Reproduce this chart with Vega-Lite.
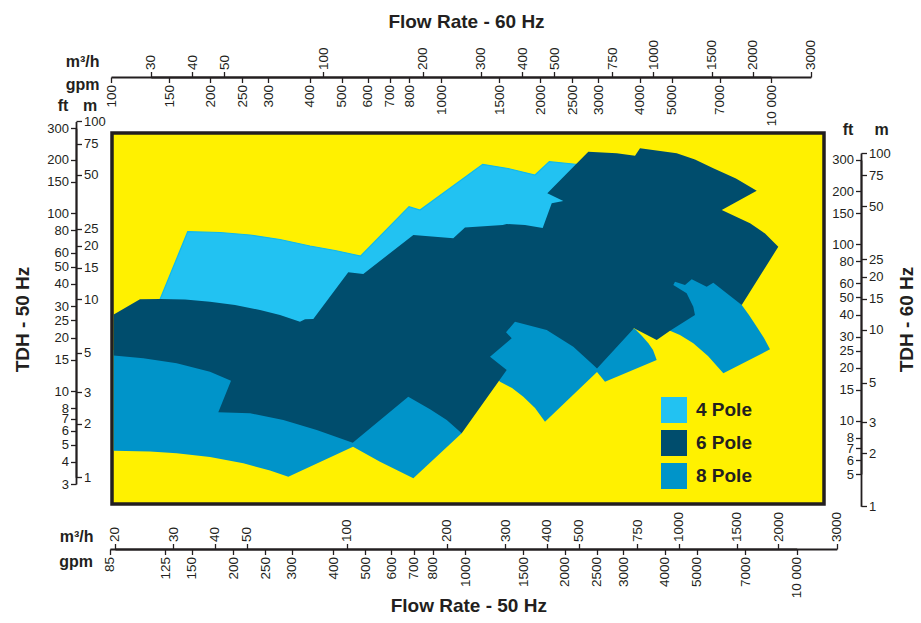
{
"$schema": "https://vega.github.io/schema/vega-lite/v6.json",
"width": 712, "height": 371,
"autosize": {"type": "none"},
"padding": {"left": 112, "top": 133, "right": 97, "bottom": 119},
"background": "white",
"datasets": {
"poly": [
{"pole":"4 Pole","shape":"A","i":1,"flow":26.91,"head":9.289},
{"pole":"4 Pole","shape":"A","i":2,"flow":33.14,"head":23.99},
{"pole":"4 Pole","shape":"A","i":3,"flow":41.47,"head":23.74},
{"pole":"4 Pole","shape":"A","i":4,"flow":51.07,"head":22.99},
{"pole":"4 Pole","shape":"A","i":5,"flow":62.89,"head":21.69},
{"pole":"4 Pole","shape":"A","i":6,"flow":77.45,"head":19.94},
{"pole":"4 Pole","shape":"A","i":7,"flow":92.13,"head":18.81},
{"pole":"4 Pole","shape":"A","i":8,"flow":110.1,"head":17.52},
{"pole":"4 Pole","shape":"A","i":9,"flow":154.0,"head":33.16},
{"pole":"4 Pole","shape":"A","i":10,"flow":166.2,"head":31.77},
{"pole":"4 Pole","shape":"A","i":11,"flow":256.8,"head":57.40},
{"pole":"4 Pole","shape":"A","i":12,"flow":306.2,"head":54.36},
{"pole":"4 Pole","shape":"A","i":13,"flow":369.3,"head":49.97},
{"pole":"4 Pole","shape":"A","i":14,"flow":407.8,"head":59.37},
{"pole":"4 Pole","shape":"A","i":15,"flow":481.7,"head":57.62},
{"pole":"4 Pole","shape":"A","i":16,"flow":548.5,"head":56.15},
{"pole":"4 Pole","shape":"A","i":17,"flow":579.9,"head":18.93},
{"pole":"4 Pole","shape":"A","i":18,"flow":102.2,"head":8.708},
{"pole":"4 Pole","shape":"A","i":19,"flow":72.25,"head":6.722},
{"pole":"4 Pole","shape":"A","i":20,"flow":36.09,"head":8.708},
{"pole":"8 Pole","shape":"B1","i":1,"flow":19.83,"head":5.189},
{"pole":"8 Pole","shape":"B1","i":2,"flow":19.83,"head":1.409},
{"pole":"8 Pole","shape":"B1","i":3,"flow":25.51,"head":1.395},
{"pole":"8 Pole","shape":"B1","i":4,"flow":30.70,"head":1.363},
{"pole":"8 Pole","shape":"B1","i":5,"flow":38.68,"head":1.299},
{"pole":"8 Pole","shape":"B1","i":6,"flow":48.75,"head":1.197},
{"pole":"8 Pole","shape":"B1","i":7,"flow":58.68,"head":1.091},
{"pole":"8 Pole","shape":"B1","i":8,"flow":66.62,"head":1.007},
{"pole":"8 Pole","shape":"B1","i":9,"flow":104.4,"head":1.484},
{"pole":"8 Pole","shape":"B1","i":10,"flow":125.9,"head":1.222},
{"pole":"8 Pole","shape":"B1","i":11,"flow":158.7,"head":0.9859},
{"pole":"8 Pole","shape":"B1","i":12,"flow":222.0,"head":1.765},
{"pole":"8 Pole","shape":"B1","i":13,"flow":227.1,"head":2.097},
{"pole":"8 Pole","shape":"B1","i":14,"flow":144.7,"head":3.519},
{"pole":"8 Pole","shape":"B1","i":15,"flow":51.07,"head":3.754},
{"pole":"8 Pole","shape":"B1","i":16,"flow":25.51,"head":5.056},
{"pole":"8 Pole","shape":"B2","i":1,"flow":283.7,"head":3.611},
{"pole":"8 Pole","shape":"B2","i":2,"flow":289.6,"head":3.442},
{"pole":"8 Pole","shape":"B2","i":3,"flow":314.8,"head":3.173},
{"pole":"8 Pole","shape":"B2","i":4,"flow":340.5,"head":2.835},
{"pole":"8 Pole","shape":"B2","i":5,"flow":369.3,"head":2.449},
{"pole":"8 Pole","shape":"B2","i":6,"flow":395.8,"head":2.051},
{"pole":"8 Pole","shape":"B2","i":7,"flow":567.9,"head":3.903},
{"pole":"8 Pole","shape":"B2","i":8,"flow":567.9,"head":4.442},
{"pole":"8 Pole","shape":"B2","i":9,"flow":439.3,"head":6.722},
{"pole":"8 Pole","shape":"B2","i":10,"flow":321.4,"head":7.851},
{"pole":"8 Pole","shape":"B2","i":11,"flow":252.1,"head":5.189},
{"pole":"8 Pole","shape":"B3","i":1,"flow":567.9,"head":3.903},
{"pole":"8 Pole","shape":"B3","i":2,"flow":600.3,"head":3.442},
{"pole":"8 Pole","shape":"B3","i":3,"flow":859.5,"head":4.559},
{"pole":"8 Pole","shape":"B3","i":4,"flow":837.7,"head":5.189},
{"pole":"8 Pole","shape":"B3","i":5,"flow":810.9,"head":5.659},
{"pole":"8 Pole","shape":"B3","i":6,"flow":776.1,"head":6.220},
{"pole":"8 Pole","shape":"B3","i":7,"flow":739.3,"head":6.809},
{"pole":"8 Pole","shape":"B3","i":8,"flow":666.2,"head":6.722},
{"pole":"8 Pole","shape":"B3","i":9,"flow":567.9,"head":4.442},
{"pole":"8 Pole","shape":"B4","i":1,"flow":942.7,"head":6.661},
{"pole":"8 Pole","shape":"B4","i":2,"flow":1010,"head":6.301},
{"pole":"8 Pole","shape":"B4","i":3,"flow":1108,"head":5.659},
{"pole":"8 Pole","shape":"B4","i":4,"flow":1227,"head":4.801},
{"pole":"8 Pole","shape":"B4","i":5,"flow":1365,"head":3.837},
{"pole":"8 Pole","shape":"B4","i":6,"flow":1887,"head":5.236},
{"pole":"8 Pole","shape":"B4","i":7,"flow":1810,"head":6.060},
{"pole":"8 Pole","shape":"B4","i":8,"flow":1721,"head":7.015},
{"pole":"8 Pole","shape":"B4","i":9,"flow":1631,"head":8.162},
{"pole":"8 Pole","shape":"B4","i":10,"flow":1551,"head":9.289},
{"pole":"8 Pole","shape":"B4","i":11,"flow":1288,"head":13.52},
{"pole":"8 Pole","shape":"B4","i":12,"flow":955.8,"head":13.52},
{"pole":"6 Pole","shape":"C","i":1,"flow":19.83,"head":8.204},
{"pole":"6 Pole","shape":"C","i":2,"flow":23.79,"head":10.00},
{"pole":"6 Pole","shape":"C","i":3,"flow":27.34,"head":10.04},
{"pole":"6 Pole","shape":"C","i":4,"flow":32.52,"head":9.975},
{"pole":"6 Pole","shape":"C","i":5,"flow":38.68,"head":9.695},
{"pole":"6 Pole","shape":"C","i":6,"flow":46.02,"head":9.289},
{"pole":"6 Pole","shape":"C","i":7,"flow":54.74,"head":8.708},
{"pole":"6 Pole","shape":"C","i":8,"flow":62.89,"head":8.162},
{"pole":"6 Pole","shape":"C","i":9,"flow":72.25,"head":7.484},
{"pole":"6 Pole","shape":"C","i":10,"flow":74.81,"head":7.72},
{"pole":"6 Pole","shape":"C","i":11,"flow":79.24,"head":7.75},
{"pole":"6 Pole","shape":"C","i":12,"flow":101.0,"head":14.18},
{"pole":"6 Pole","shape":"C","i":13,"flow":112.1,"head":13.88},
{"pole":"6 Pole","shape":"C","i":14,"flow":158.7,"head":22.99},
{"pole":"6 Pole","shape":"C","i":15,"flow":209.4,"head":22.03},
{"pole":"6 Pole","shape":"C","i":16,"flow":227.1,"head":25.33},
{"pole":"6 Pole","shape":"C","i":17,"flow":295.1,"head":26.16},
{"pole":"6 Pole","shape":"C","i":18,"flow":303.4,"head":26.5},
{"pole":"6 Pole","shape":"C","i":19,"flow":344.5,"head":26.16},
{"pole":"6 Pole","shape":"C","i":20,"flow":389.5,"head":25.17},
{"pole":"6 Pole","shape":"C","i":21,"flow":414.7,"head":34.65},
{"pole":"6 Pole","shape":"C","i":22,"flow":449.4,"head":35.69},
{"pole":"6 Pole","shape":"C","i":23,"flow":402.2,"head":39.44},
{"pole":"6 Pole","shape":"C","i":24,"flow":534.6,"head":67.56},
{"pole":"6 Pole","shape":"C","i":25,"flow":651.1,"head":66.18},
{"pole":"6 Pole","shape":"C","i":26,"flow":739.3,"head":64.15},
{"pole":"6 Pole","shape":"C","i":27,"flow":765.4,"head":70.6},
{"pole":"6 Pole","shape":"C","i":28,"flow":987.5,"head":66.18},
{"pole":"6 Pole","shape":"C","i":29,"flow":1121,"head":61.07},
{"pole":"6 Pole","shape":"C","i":30,"flow":1273,"head":54.5},
{"pole":"6 Pole","shape":"C","i":31,"flow":1490,"head":47.76},
{"pole":"6 Pole","shape":"C","i":32,"flow":1721,"head":40.79},
{"pole":"6 Pole","shape":"C","i":33,"flow":1350,"head":31.77},
{"pole":"6 Pole","shape":"C","i":34,"flow":1643,"head":26.74},
{"pole":"6 Pole","shape":"C","i":35,"flow":1823,"head":23.44},
{"pole":"6 Pole","shape":"C","i":36,"flow":1999,"head":19.75},
{"pole":"6 Pole","shape":"C","i":37,"flow":1551,"head":9.289},
{"pole":"6 Pole","shape":"C","i":38,"flow":1273,"head":12.4},
{"pole":"6 Pole","shape":"C","i":39,"flow":1216,"head":11.77},
{"pole":"6 Pole","shape":"C","i":40,"flow":1096,"head":12.95},
{"pole":"6 Pole","shape":"C","i":41,"flow":1046,"head":12.03},
{"pole":"6 Pole","shape":"C","i":42,"flow":975.9,"head":12.56},
{"pole":"6 Pole","shape":"C","i":43,"flow":964.5,"head":12.03},
{"pole":"6 Pole","shape":"C","i":44,"flow":1058,"head":10.81},
{"pole":"6 Pole","shape":"C","i":45,"flow":1108,"head":9.087},
{"pole":"6 Pole","shape":"C","i":46,"flow":1121,"head":8.162},
{"pole":"6 Pole","shape":"C","i":47,"flow":942.7,"head":6.661},
{"pole":"6 Pole","shape":"C","i":48,"flow":859.5,"head":5.905},
{"pole":"6 Pole","shape":"C","i":49,"flow":734.2,"head":6.871},
{"pole":"6 Pole","shape":"C","i":50,"flow":567.9,"head":4.084},
{"pole":"6 Pole","shape":"C","i":51,"flow":553.5,"head":4.273},
{"pole":"6 Pole","shape":"C","i":52,"flow":481.7,"head":5.415},
{"pole":"6 Pole","shape":"C","i":53,"flow":400.5,"head":6.722},
{"pole":"6 Pole","shape":"C","i":54,"flow":321.4,"head":7.484},
{"pole":"6 Pole","shape":"C","i":55,"flow":302.0,"head":6.525},
{"pole":"6 Pole","shape":"C","i":56,"flow":314.1,"head":6.036},
{"pole":"6 Pole","shape":"C","i":57,"flow":270.2,"head":4.758},
{"pole":"6 Pole","shape":"C","i":58,"flow":303.4,"head":4.005},
{"pole":"6 Pole","shape":"C","i":59,"flow":222.0,"head":1.765},
{"pole":"6 Pole","shape":"C","i":60,"flow":200.1,"head":2.097},
{"pole":"6 Pole","shape":"C","i":61,"flow":178.2,"head":2.408},
{"pole":"6 Pole","shape":"C","i":62,"flow":153.2,"head":2.835},
{"pole":"6 Pole","shape":"C","i":63,"flow":104.2,"head":1.563},
{"pole":"6 Pole","shape":"C","i":64,"flow":81.14,"head":1.842},
{"pole":"6 Pole","shape":"C","i":65,"flow":64.35,"head":2.097},
{"pole":"6 Pole","shape":"C","i":66,"flow":51.07,"head":2.287},
{"pole":"6 Pole","shape":"C","i":67,"flow":40.98,"head":2.317},
{"pole":"6 Pole","shape":"C","i":68,"flow":44.76,"head":3.487},
{"pole":"6 Pole","shape":"C","i":69,"flow":38.68,"head":3.918},
{"pole":"6 Pole","shape":"C","i":70,"flow":30.70,"head":4.368},
{"pole":"6 Pole","shape":"C","i":71,"flow":24.35,"head":4.66},
{"pole":"6 Pole","shape":"C","i":72,"flow":19.83,"head":4.826}
],
"ends50": [{"gpm": 85, "ft": 3}, {"gpm": 10000, "ft": 300}],
"ends60m": [{"flow60": 30, "head60": 1}, {"flow60": 3000, "head60": 100}],
"ends60us": [{"gpm60": 100, "ft60": 5}, {"gpm60": 10000, "ft60": 300}],
"frame": [{"a": 0, "b": 0}, {"a": 1, "b": 1}]
},
"layer": [
{
"data": {"name": "poly"},
"encoding": {
"x": {"field": "flow", "type": "quantitative",
"scale": {"type": "log", "domain": [20, 3000], "range": [2.97, 724.78], "nice": false},
"axis": {"orient": "bottom", "offset": 45, "values": [20,30,40,50,100,200,300,400,500,750,1000,1500,2000,3000], "format": "d",
"tickSize": -5.5, "labelPadding": -2, "labelAngle": 270, "labelAlign": "left", "labelBaseline": "middle",
"title": "m³/h", "titleX": -19, "titleY": -8, "titleAlign": "right", "titleBaseline": "alphabetic", "titleAngle": 0}},
"y": {"field": "head", "type": "quantitative",
"scale": {"type": "log", "domain": [1, 100], "range": [344.2, -11.6], "nice": false},
"axis": {"orient": "left", "offset": 36, "values": [1,2,3,5,10,15,20,25,50,75,100], "format": "d", "labelFontSize": 13,
"tickSize": -5.5, "labelPadding": -2, "labelAlign": "left", "labelBaseline": "middle",
"title": "m", "titleX": 13.7, "titleY": -23, "titleAlign": "center", "titleBaseline": "alphabetic", "titleAngle": 0}},
"color": {"field": "pole", "type": "nominal",
"scale": {"domain": ["4 Pole", "6 Pole", "8 Pole"], "range": ["#22C2F2", "#004D6D", "#0094C9"]},
"legend": {"orient": "none", "legendX": 549, "legendY": 264, "title": null, "symbolType": "square", "symbolSize": 676,
"symbolStrokeWidth": 0, "symbolOpacity": 1, "labelFont": "Liberation Sans, Arial, sans-serif", "labelFontSize": 19,
"labelFontWeight": "bold", "labelColor": "#231f20", "labelOffset": 9, "rowPadding": 7, "padding": 0}},
"detail": {"field": "shape"},
"order": {"field": "i", "type": "quantitative"}
},
"layer": [
{"transform": [{"filter": "datum.pole === '4 Pole'"}], "mark": {"type": "line", "filled": true, "stroke": "#0DB9EE", "strokeWidth": 1.2}},
{"transform": [{"filter": "datum.pole === '8 Pole'"}], "mark": {"type": "line", "filled": true}},
{"transform": [{"filter": "datum.pole === '6 Pole'"}], "mark": {"type": "line", "filled": true}}
]
},
{
"data": {"name": "ends50"},
"mark": {"type": "point", "opacity": 0},
"encoding": {
"x": {"field": "gpm", "type": "quantitative",
"scale": {"type": "log", "domain": [85, 10000], "range": [-2.11, 684.7], "nice": false},
"axis": {"orient": "bottom", "offset": 45, "values": [85,125,150,200,250,300,400,500,600,700,800,1000,1500,2000,2500,3000,4000,5000,7000,10000],
"format": "d", "labelExpr": "datum.value == 10000 ? '10 000' : datum.label",
"tickSize": 5.5, "labelPadding": 2, "labelAngle": 270, "labelAlign": "right", "labelBaseline": "middle",
"title": "gpm", "titleX": -19.5, "titleY": 17, "titleAlign": "right", "titleBaseline": "alphabetic", "titleAngle": 0}},
"y": {"field": "ft", "type": "quantitative",
"scale": {"type": "log", "domain": [3, 300], "range": [351.12, -4.68], "nice": false},
"axis": {"orient": "left", "offset": 36, "values": [3,4,5,6,7,8,10,15,20,25,30,40,50,60,80,100,150,200,300], "format": "d", "labelFontSize": 13,
"tickSize": 5.5, "labelPadding": 2, "labelAlign": "right", "labelBaseline": "middle",
"title": "ft", "titleX": -13.5, "titleY": -23, "titleAlign": "center", "titleBaseline": "alphabetic", "titleAngle": 0}}
}
},
{
"data": {"name": "ends60m"},
"mark": {"type": "point", "opacity": 0},
"encoding": {
"x": {"field": "flow60", "type": "quantitative",
"scale": {"type": "log", "domain": [30, 3000], "range": [38.88, 698.88], "nice": false},
"axis": {"orient": "top", "offset": 56, "values": [30,40,50,100,200,300,400,500,750,1000,1500,2000,3000], "format": "d",
"tickSize": 5.5, "labelPadding": 2, "labelAngle": 270, "labelAlign": "left", "labelBaseline": "middle",
"title": "m³/h", "titleX": -13, "titleY": -10.5, "titleAlign": "right", "titleBaseline": "alphabetic", "titleAngle": 0}},
"y": {"field": "head60", "type": "quantitative",
"scale": {"type": "log", "domain": [1, 100], "range": [373.32, 20.12], "nice": false},
"axis": {"orient": "right", "offset": 37, "values": [1,2,3,5,10,15,20,25,50,75,100], "format": "d", "labelFontSize": 13,
"tickSize": 5.5, "labelPadding": 2, "labelAlign": "left", "labelBaseline": "middle",
"title": "m", "titleX": 20, "titleY": 1, "titleAlign": "center", "titleBaseline": "alphabetic", "titleAngle": 0}}
}
},
{
"data": {"name": "ends60us"},
"mark": {"type": "point", "opacity": 0},
"encoding": {
"x": {"field": "gpm60", "type": "quantitative",
"scale": {"type": "log", "domain": [100, 10000], "range": [-1, 659], "nice": false},
"axis": {"orient": "top", "offset": 56, "values": [100,150,200,250,300,400,500,600,700,800,1000,1500,2000,2500,3000,4000,5000,7000,10000],
"format": "d", "labelExpr": "datum.value == 10000 ? '10 000' : datum.label",
"tickSize": -5.5, "labelPadding": -2, "labelAngle": 270, "labelAlign": "right", "labelBaseline": "middle",
"title": "gpm", "titleX": -13, "titleY": 12, "titleAlign": "right", "titleBaseline": "alphabetic", "titleAngle": 0}},
"y": {"field": "ft60", "type": "quantitative",
"scale": {"type": "log", "domain": [5, 300], "range": [341.0, 26.98], "nice": false},
"axis": {"orient": "right", "offset": 37, "values": [5,6,7,8,10,15,20,25,30,40,50,60,80,100,150,200,300], "format": "d", "labelFontSize": 13,
"tickSize": -5.5, "labelPadding": -2, "labelAlign": "right", "labelBaseline": "middle",
"title": "ft", "titleX": -13.5, "titleY": 1, "titleAlign": "center", "titleBaseline": "alphabetic", "titleAngle": 0}}
}
},
{
"data": {"name": "frame"},
"mark": {"type": "point", "opacity": 0},
"encoding": {
"x": {"field": "a", "type": "quantitative", "scale": {"domain": [0, 1], "nice": false},
"axis": {"orient": "top", "offset": 56, "domain": false, "ticks": false, "labels": false,
"title": "Flow Rate - 60 Hz", "titleFontSize": 19, "titleX": 354, "titleY": -49.7, "titleAlign": "center", "titleBaseline": "alphabetic", "titleAngle": 0}},
"y": {"field": "b", "type": "quantitative", "scale": {"domain": [0, 1], "nice": false},
"axis": {"orient": "left", "offset": 36, "domain": false, "ticks": false, "labels": false,
"title": "TDH - 50 Hz", "titleFontSize": 19, "titleX": -53.5, "titleY": 186, "titleAlign": "center", "titleBaseline": "middle", "titleAngle": 270}}
}
},
{
"data": {"name": "frame"},
"mark": {"type": "point", "opacity": 0},
"encoding": {
"x": {"field": "a", "type": "quantitative", "scale": {"domain": [0, 1], "nice": false},
"axis": {"orient": "bottom", "offset": 45, "domain": false, "ticks": false, "labels": false,
"title": "Flow Rate - 50 Hz", "titleFontSize": 19, "titleX": 356.3, "titleY": 62.7, "titleAlign": "center", "titleBaseline": "alphabetic", "titleAngle": 0}},
"y": {"field": "b", "type": "quantitative", "scale": {"domain": [0, 1], "nice": false},
"axis": {"orient": "right", "offset": 37, "domain": false, "ticks": false, "labels": false,
"title": "TDH - 60 Hz", "titleFontSize": 19, "titleX": 45.5, "titleY": 186, "titleAlign": "center", "titleBaseline": "middle", "titleAngle": 270}}
}
}
],
"resolve": {"scale": {"x": "independent", "y": "independent"}, "axis": {"x": "independent", "y": "independent"}},
"config": {
"view": {"fill": "#FFF100", "stroke": "#231F20", "strokeWidth": 3.5},
"axis": {"grid": false, "labelFont": "Liberation Sans, Arial, sans-serif", "labelFontSize": 13.5, "labelColor": "#231F20",
"tickColor": "#231F20", "domainColor": "#231F20", "tickWidth": 1.3, "domainWidth": 1.8,
"titleFont": "Liberation Sans, Arial, sans-serif", "titleFontWeight": "bold", "titleFontSize": 16, "titleColor": "#231F20",
"labelFlush": false, "labelOverlap": false, "labelBound": false}
}
}
